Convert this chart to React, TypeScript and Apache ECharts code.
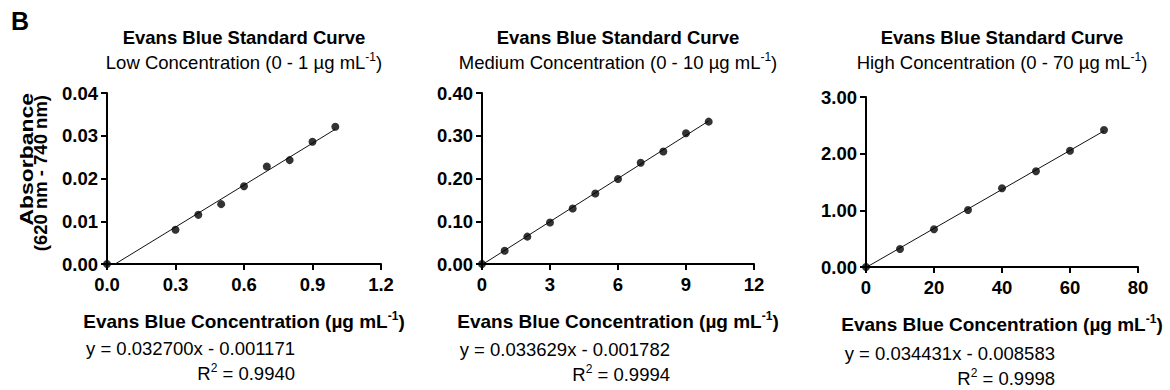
import React, { useEffect, useRef } from 'react';
import * as echarts from 'echarts';

// ---- Data ----
const lowX = [0, 0.3, 0.4, 0.5, 0.6, 0.7, 0.8, 0.9, 1.0];
const lowY = [0, 0.008, 0.0115, 0.014, 0.0182, 0.0228, 0.0243, 0.0286, 0.0321];
const medX = [0, 1, 2, 3, 4, 5, 6, 7, 8, 9, 10];
const medY = [0, 0.031, 0.064, 0.097, 0.13, 0.165, 0.199, 0.237, 0.263, 0.306, 0.333];
const highX = [0, 10, 20, 30, 40, 50, 60, 70];
const highY = [0, 0.318, 0.665, 1.006, 1.39, 1.69, 2.05, 2.418];

const slopes = [0.0327, 0.033629, 0.034431];
const intercepts = [-0.001171, -0.001782, -0.008583];
const r2Values = ['0.9940', '0.9994', '0.9998'];
const subtitlePrefixes = [
  'Low Concentration (0 - 1 µg mL',
  'Medium Concentration (0 - 10 µg mL',
  'High Concentration (0 - 70 µg mL',
];
const mainTitle = 'Evans Blue Standard Curve';
const xTitle = 'Evans Blue Concentration (µg mL';
const yTitleLines = ['Absorbance', '(620 nm - 740 nm)'];
const xMaxes = [1.2, 12, 80];
const xIntervals = [0.3, 3, 20];
const xDecimals = [1, 0, 0];
const yMaxes = [0.04, 0.4, 3];
const yIntervals = [0.01, 0.1, 1];
const yDecimals = [2, 2, 2];

const FONT = 'Liberation Sans, Arial, sans-serif';
const FS = 18.5;

const grids = [
  { left: 107, top: 93, width: 274, height: 171 },
  { left: 482, top: 93, width: 272, height: 171 },
  { left: 866, top: 97, width: 272, height: 170 },
];
const centers = [244, 618, 1002];
const eqRight = [295, 670, 1055];
const eqY = [348, 349, 353];
const xTitleY = [321, 321, 324];

const richBase = {
  b: { fontFamily: FONT, fontSize: 19, fontWeight: 'bold', fill: '#000', lineHeight: 22 },
  n: { fontFamily: FONT, fontSize: FS, fill: '#000', lineHeight: 22 },
  supb: { fontFamily: FONT, fontSize: 12, fontWeight: 'bold', fill: '#000', verticalAlign: 'top', lineHeight: 14 },
  supn: { fontFamily: FONT, fontSize: 12, fill: '#000', verticalAlign: 'top', lineHeight: 14 },
};

export default function App() {
  const ref = useRef<HTMLDivElement>(null);
  useEffect(() => {
    if (!ref.current) return;
    const chart = echarts.init(ref.current, undefined, { renderer: 'svg' });
    const xs = [lowX, medX, highX];
    const ys = [lowY, medY, highY];

    const xAxes = grids.map((_, i) => ({
      type: 'value',
      gridIndex: i,
      min: 0,
      max: xMaxes[i],
      interval: xIntervals[i],
      splitLine: { show: false },
      axisLine: { show: true, onZero: false, lineStyle: { color: '#000', width: 2 } },
      axisTick: { show: true, length: 6, lineStyle: { color: '#000', width: 2 } },
      axisLabel: {
        color: '#000',
        fontFamily: FONT,
        fontWeight: 'bold',
        fontSize: FS,
        margin: 11,
        formatter: (v: number) => v.toFixed(xDecimals[i]),
      },
    }));
    const yAxes = grids.map((_, i) => ({
      type: 'value',
      gridIndex: i,
      min: 0,
      max: yMaxes[i],
      interval: yIntervals[i],
      splitLine: { show: false },
      axisLine: { show: true, onZero: false, lineStyle: { color: '#000', width: 2 } },
      axisTick: { show: true, length: 6, lineStyle: { color: '#000', width: 2 } },
      axisLabel: {
        color: '#000',
        fontFamily: FONT,
        fontWeight: 'bold',
        fontSize: FS,
        margin: 9,
        formatter: (v: number) => v.toFixed(yDecimals[i]),
      },
    }));

    const series: any[] = [];
    grids.forEach((_, i) => {
      const x0 = -intercepts[i] / slopes[i];
      const x1 = xs[i][xs[i].length - 1];
      series.push({
        type: 'line',
        xAxisIndex: i,
        yAxisIndex: i,
        data: [
          [x0, slopes[i] * x0 + intercepts[i]],
          [x1, slopes[i] * x1 + intercepts[i]],
        ],
        showSymbol: false,
        symbol: 'none',
        lineStyle: { color: '#111', width: 1 },
        z: 3,
      });
      series.push({
        type: 'scatter',
        xAxisIndex: i,
        yAxisIndex: i,
        data: xs[i].map((x, k) => [x, ys[i][k]]),
        symbol: 'circle',
        symbolSize: 8,
        itemStyle: { color: '#000' },
        z: 4,
      });
    });

    const graphics: any[] = [
      {
        type: 'text',
        x: 11,
        y: 21,
        style: { text: 'B', font: `bold 25px ${FONT}`, fill: '#000', textVerticalAlign: 'middle' },
      },
      {
        type: 'text',
        x: 26,
        y: 93,
        rotation: Math.PI / 2,
        scaleX: 1.24,
        style: {
          text: yTitleLines[0],
          fontFamily: FONT,
          fontSize: FS,
          fontWeight: 'bold',
          fill: '#000',
          textAlign: 'right',
          textVerticalAlign: 'middle',
        },
      },
      {
        type: 'text',
        x: 40,
        y: 95,
        rotation: Math.PI / 2,
        style: {
          text: yTitleLines[1],
          fontFamily: FONT,
          fontSize: FS,
          fontWeight: 'bold',
          fill: '#000',
          textAlign: 'right',
          textVerticalAlign: 'middle',
        },
      },
    ];
    grids.forEach((_, i) => {
      graphics.push({
        type: 'text',
        x: centers[i],
        y: 37,
        style: {
          text: mainTitle,
          fontFamily: FONT,
          fontSize: FS,
          fontWeight: 'bold',
          fill: '#000',
          textAlign: 'center',
          textVerticalAlign: 'middle',
        },
      });
      graphics.push({
        type: 'text',
        x: centers[i],
        y: 62,
        style: {
          text: `{n|${subtitlePrefixes[i]}}{supn|-1}{n|)}`,
          rich: richBase,
          textAlign: 'center',
          textVerticalAlign: 'middle',
        },
      });
      graphics.push({
        type: 'text',
        x: centers[i],
        y: xTitleY[i],
        style: {
          text: `{b|${xTitle}}{supb|-1}{b|)}`,
          rich: richBase,
          textAlign: 'center',
          textVerticalAlign: 'middle',
        },
      });
      const b = intercepts[i];
      const eq = `y = ${slopes[i].toFixed(6)}x ${b < 0 ? '-' : '+'} ${Math.abs(b).toFixed(6)}`;
      graphics.push({
        type: 'text',
        x: eqRight[i],
        y: eqY[i],
        style: {
          text: `{n|${eq}}`,
          rich: richBase,
          textAlign: 'right',
          textVerticalAlign: 'middle',
        },
      });
      graphics.push({
        type: 'text',
        x: eqRight[i],
        y: eqY[i] + 25,
        style: {
          text: `{n|R}{supn|2}{n| = ${r2Values[i]}}`,
          rich: richBase,
          textAlign: 'right',
          textVerticalAlign: 'middle',
        },
      });
    });

    chart.setOption({
      animation: false,
      backgroundColor: '#fff',
      grid: grids.map((g) => ({ ...g, containLabel: false })),
      xAxis: xAxes,
      yAxis: yAxes,
      series,
      graphic: graphics,
    });
    return () => chart.dispose();
  }, []);
  return (
    <div
      ref={ref}
      style={{ position: 'absolute', left: 0, top: 0, width: 1170, height: 390, background: '#fff' }}
    />
  );
}
